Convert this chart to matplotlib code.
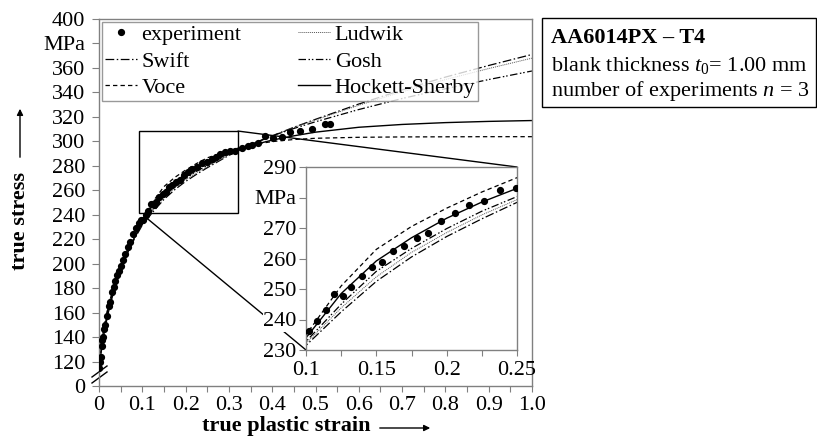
import matplotlib.pyplot as plt
from matplotlib.patches import Rectangle, ConnectionPatch

plt.rcParams['font.family'] = ['Liberation Serif', 'DejaVu Serif']
plt.rcParams['mathtext.fontset'] = 'custom'
plt.rcParams['mathtext.rm'] = 'Liberation Serif'
plt.rcParams['mathtext.it'] = 'Liberation Serif:italic'
plt.rcParams['mathtext.bf'] = 'Liberation Serif:bold'

# experiment (true plastic strain, true stress in MPa)
exp_strain = [0.000, 0.002, 0.004, 0.006, 0.008, 0.010, 0.012, 0.014, 0.018, 0.022,
              0.026, 0.030, 0.034, 0.038, 0.042, 0.046, 0.050, 0.055, 0.060, 0.066,
              0.072, 0.078, 0.085, 0.092, 0.098,
              0.1024, 0.108, 0.114, 0.120, 0.126, 0.132, 0.1396, 0.1467, 0.1538, 0.1616,
              0.1697, 0.1787, 0.187, 0.1957, 0.206, 0.2159, 0.2265, 0.238, 0.249,
              0.260, 0.270, 0.280, 0.291, 0.302, 0.314, 0.330, 0.345, 0.353, 0.367,
              0.383, 0.403, 0.422, 0.441, 0.464, 0.491, 0.522, 0.533]
exp_stress = [115, 120, 124, 133, 138, 140, 147, 150, 157, 165,
              169, 177, 181, 186, 191, 194, 198, 203, 208, 214,
              218, 224, 229, 233, 236,
              236.1, 239.4, 243.0, 248.4, 247.6, 250.6, 254.1, 257.3, 258.9, 262.4,
              264.0, 266.7, 268.2, 272.3, 274.8, 277.7, 278.8, 282.6, 283.0,
              285.5, 287.5, 289.5, 290.9, 291.7, 292.5, 294.4, 296.3, 297.0, 298.5,
              304.0, 302.6, 303.4, 308.0, 308.8, 310.0, 314.0, 314.0]

# fitted flow curves
fit_strain = [0, 0.005, 0.01, 0.02, 0.03, 0.04, 0.05, 0.065, 0.08, 0.1,
              0.125, 0.15, 0.175, 0.2, 0.225, 0.25, 0.3, 0.35, 0.4, 0.45,
              0.5, 0.6, 0.7, 0.8, 0.9, 1.0]
swift = [118, 135, 145, 163, 176, 187, 197, 209, 219, 231.5,
         242.5, 252.5, 260.5, 267.2, 273.0, 278.4, 288.5, 297.0, 304.5, 311.5,
         318.0, 330.5, 342.0, 352.5, 362.0, 371.0]
voce = [115, 130, 142, 160, 174, 186, 196, 211, 223, 235,
        251.0, 263.0, 270.5, 276.5, 281.8, 286.5, 292.5, 297.0, 299.8, 301.5,
        302.5, 303.3, 303.6, 303.7, 303.8, 303.8]
ludwik = [110, 132, 143, 162, 175, 186, 196, 209, 219.5, 232.2,
          243.8, 254.0, 262.0, 268.5, 274.3, 279.3, 289.0, 297.3, 304.5, 311.3,
          317.5, 329.5, 340.5, 350.5, 359.5, 368.0]
gosh = [116, 133, 144, 162, 175, 186, 196, 209, 220, 232.8,
        245.0, 255.8, 263.3, 269.8, 275.5, 280.3, 289.5, 297.5, 304.5, 310.5,
        316.0, 326.0, 335.0, 343.0, 350.5, 357.5]
hockett = [112, 128, 140, 158, 172, 184, 194, 208, 220, 234,
           248.5, 259.2, 266.8, 273.2, 278.5, 283.0, 290.5, 296.5, 301.0, 304.5,
           307.5, 311.5, 313.8, 315.3, 316.3, 317.0]

main_yticks = [100, 120, 140, 160, 180, 200, 220, 240, 260, 280, 300, 320, 340, 360, 380, 400]
main_ylabels = ['0', '120', '140', '160', '180', '200', '220', '240', '260', '280',
                '300', '320', '340', '360', 'MPa', '400']
main_xticks = [0, 0.05, 0.1, 0.15, 0.2, 0.25, 0.3, 0.35, 0.4, 0.45, 0.5,
               0.55, 0.6, 0.65, 0.7, 0.75, 0.8, 0.85, 0.9, 0.95, 1.0]
main_xlabels = ['0', '', '0.1', '', '0.2', '', '0.3', '', '0.4', '', '0.5',
                '', '0.6', '', '0.7', '', '0.8', '', '0.9', '', '1.0']
ins_yticks = [230, 240, 250, 260, 270, 280, 290]
ins_ylabels = ['230', '240', '250', '260', '270', 'MPa', '290']
ins_xticks = [0.1, 0.125, 0.15, 0.175, 0.2, 0.225, 0.25]
ins_xlabels = ['0.1', '', '0.15', '', '0.2', '', '0.25']

FS = 16
GRAY = '#808080'
W, H = 817, 438

styles = {
    'Swift': dict(color='black', lw=0.9, dashes=(7, 2, 1.2, 2)),
    'Voce': dict(color='black', lw=0.9, dashes=(3.5, 2.5)),
    'Ludwik': dict(color='#555555', lw=0.7, dashes=(1, 1)),
    'Gosh': dict(color='black', lw=0.9, dashes=(6, 2, 1.2, 1.5, 1.2, 2)),
    'Hockett-Sherby': dict(color='black', lw=1.0, linestyle='-'),
}
curves = {'Swift': swift, 'Voce': voce, 'Ludwik': ludwik, 'Gosh': gosh,
          'Hockett-Sherby': hockett}


def px_fig(x, y):
    return x / W, 1 - y / H


fig = plt.figure(figsize=(8.17, 4.38), dpi=100)

# main axes
ax = fig.add_axes([99 / W, 1 - 386 / H, 433 / W, 367 / H])
handles = {}
for name, vals in curves.items():
    handles[name], = ax.plot(fit_strain, vals, label=name, **styles[name])
handles['experiment'], = ax.plot(exp_strain, exp_stress, 'o', color='black',
                                 markersize=4.2, label='experiment', zorder=3)
ax.set_xlim(0, 1.0)
ax.set_ylim(100, 400)
ax.set_yticks(main_yticks)
ax.set_yticklabels(main_ylabels)
ax.set_xticks(main_xticks)
ax.set_xticklabels(main_xlabels)
ax.tick_params(axis='y', direction='out', length=5, color=GRAY, labelsize=FS, pad=5)
ax.tick_params(axis='x', direction='out', length=4, color=GRAY, labelsize=FS, pad=3)
for sp in ax.spines.values():
    sp.set_color(GRAY)
    sp.set_linewidth(1)

order = ['experiment', 'Swift', 'Voce', 'Ludwik', 'Gosh', 'Hockett-Sherby']
leg = ax.legend([handles[k] for k in order], order, ncol=2, loc='upper left',
                bbox_to_anchor=(3 / 433, 1 - 3 / 367), borderaxespad=0,
                fontsize=FS, frameon=True, fancybox=False, edgecolor=GRAY,
                handlelength=1.45, handletextpad=0.2, columnspacing=2.55,
                labelspacing=0.26, borderpad=0.12, numpoints=1)
leg.get_frame().set_linewidth(1)

# broken axis mark
for dy in (0, 6):
    y0 = (386 - 383 + dy) / 367
    y1 = (386 - 372 + dy) / 367
    ax.plot([-7 / 433, 8 / 433], [y0, y1], color='black', lw=1,
            transform=ax.transAxes, clip_on=False)

# zoom rectangle
ax.add_patch(Rectangle((0.0924, 241.4), 0.321 - 0.0924, 308.4 - 241.4,
                       fill=False, edgecolor='black', lw=1, zorder=4))

# inset
axins = fig.add_axes([306 / W, 1 - 350 / H, 211 / W, 183 / H])
for name, vals in curves.items():
    axins.plot(fit_strain, vals, **styles[name])
axins.plot(exp_strain, exp_stress, 'o', color='black', markersize=4.2, zorder=3)
axins.set_xlim(0.1, 0.25)
axins.set_ylim(230, 290)
axins.set_yticks(ins_yticks)
axins.set_yticklabels(ins_ylabels)
axins.set_xticks(ins_xticks)
axins.set_xticklabels(ins_xlabels)
axins.tick_params(axis='y', direction='out', length=5, color=GRAY, labelsize=FS, pad=2)
axins.tick_params(axis='x', direction='out', length=4, color=GRAY, labelsize=FS, pad=4)
for lab in axins.get_yticklabels():
    lab.set_bbox(dict(facecolor='white', edgecolor='none', pad=0))
for sp in axins.spines.values():
    sp.set_color(GRAY)
    sp.set_linewidth(1)

for xa, ya, xb, yb in [(0.321, 308.4, 0.25, 290), (0.106, 238.5, 0.1, 230)]:
    con = ConnectionPatch(xyA=(xa, ya), coordsA=ax.transData,
                          xyB=(xb, yb), coordsB=axins.transData,
                          color='black', lw=1)
    ax.add_artist(con)

# axis labels with arrows
fig.text(*px_fig(20, 221), 'true stress', rotation=90, fontsize=FS,
         fontweight='bold', ha='center', va='center')
fig.text(*px_fig(286, 426), 'true plastic strain', fontsize=FS,
         fontweight='bold', ha='center', va='center')
ax.annotate('', xy=px_fig(20, 106), xytext=px_fig(20, 160),
            xycoords='figure fraction', textcoords='figure fraction',
            arrowprops=dict(arrowstyle='-|>', color='black', lw=1, mutation_scale=9))
ax.annotate('', xy=px_fig(433, 428), xytext=px_fig(377, 428),
            xycoords='figure fraction', textcoords='figure fraction',
            arrowprops=dict(arrowstyle='-|>', color='black', lw=1, mutation_scale=9))

# material info box
fig.add_artist(Rectangle(px_fig(542, 107), 274 / W, 89 / H, transform=fig.transFigure,
                         fill=False, edgecolor='black', lw=1))
fig.text(*px_fig(551, 43), 'AA6014PX – T4', fontsize=FS, fontweight='bold', va='baseline')
fig.text(*px_fig(551, 71), 'blank thickness $t_0$= 1.00 mm', fontsize=FS, va='baseline')
fig.text(*px_fig(551, 96), 'number of experiments $n$ = 3', fontsize=FS, va='baseline')

fig.savefig('out.png', dpi=100)
